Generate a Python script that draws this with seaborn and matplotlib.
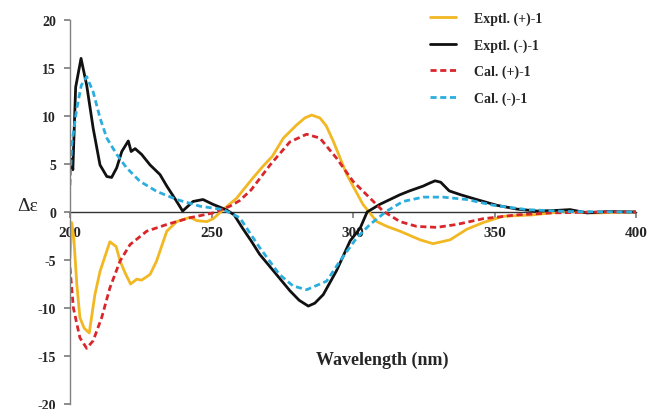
import numpy as np
import pandas as pd
import matplotlib
matplotlib.use("Agg")
import matplotlib.pyplot as plt
import seaborn as sns

# ---- data ----
exp_pos_wl = [200, 200.6, 201.3, 202.4, 203.5, 205.0, 206.8, 208.8, 210.6, 212.5, 214.1, 216.3,
              217.7, 219.4, 221.4, 223.6, 225.3, 228.3, 230.6, 234.2, 237.7, 242.4, 244.8,
              248.3, 250.6, 253.6, 258.9, 264.5, 268.3, 271.5, 275.4, 280.2, 283.0, 285.4,
              288.3, 290.5, 293.0, 297.8, 303.5, 308.4, 312.0, 316.6, 323.7, 328.3, 334.3,
              340.2, 346.0, 353.0, 363.6, 375.6, 385.0, 400]
exp_pos_val = [-4.8, -1.1, -2.5, -7.5, -11.0, -12.1, -12.6, -8.6, -6.2, -4.5, -3.1, -3.6,
               -5.1, -6.3, -7.5, -7.0, -7.1, -6.5, -5.1, -2.0, -1.0, -0.55, -0.9,
               -1.0, -0.7, 0.1, 1.45, 3.5, 4.8, 5.8, 7.7, 9.1, 9.8, 10.1,
               9.8, 9.0, 7.4, 3.9, 0.8, -1.0, -1.5, -2.0, -2.9, -3.3, -2.9,
               -1.8, -1.1, -0.45, -0.3, 0.1, -0.1, 0.0]

exp_neg_wl = [200.6, 201.0, 202.0, 203.9, 205.9, 208.2, 210.6, 213.0, 214.7, 216.5, 218.3,
              220.6, 221.6, 223.0, 225.3, 228.3, 231.8, 234.2, 237.7, 239.8, 243.5, 247.0,
              250.5, 253.0, 255.4, 258.0, 261.0, 264.0, 267.0, 271.8, 277.7, 281.0, 284.2,
              286.5, 289.5, 294.2, 299.0, 302.5, 305.0, 309.5, 316.6, 320.0, 324.8, 327.0,
              329.0, 331.0, 334.0, 338.0, 343.7, 350.8, 358.0, 365.0, 371.0, 376.7, 382.7,
              390.0, 400]
exp_neg_val = [5.5, 4.4, 13.0, 16.0, 13.2, 8.7, 4.9, 3.7, 3.6, 4.6, 6.3,
               7.4, 6.3, 6.6, 6.0, 4.9, 3.9, 2.7, 1.1, 0.1, 1.1, 1.3,
               0.8, 0.5, 0.2, -0.3, -1.7, -3.0, -4.4, -6.1, -8.2, -9.2, -9.8,
               -9.5, -8.6, -6.1, -3.0, -1.7, 0.0, 0.8, 1.8, 2.2, 2.7, 3.0,
               3.25, 3.1, 2.2, 1.8, 1.3, 0.7, 0.3, 0.1, 0.15, 0.25, -0.1,
               0.05, 0.0]

cal_pos_wl = [200, 201.2, 203.5, 205.9, 208.2, 211.2, 214.1, 217.7, 221.2, 227.1, 234.2,
              242.4, 250.5, 256.5, 260.0, 264.0, 270.7, 277.7, 283.6, 288.3, 294.2, 300.0,
              306.0, 310.6, 316.6, 322.5, 329.6, 336.6, 346.0, 357.8, 369.6, 385.0, 400]
cal_pos_val = [-5.8, -10.0, -13.1, -14.2, -13.4, -11.0, -7.9, -5.1, -3.4, -2.0, -1.3,
               -0.6, -0.1, 0.6, 1.2, 2.3, 4.9, 7.3, 8.1, 7.7, 5.6, 3.2,
               1.45, 0.1, -1.0, -1.5, -1.6, -1.3, -0.7, -0.3, -0.1, 0.0, 0.0]

cal_neg_wl = [200, 200.6, 202.4, 204.0, 205.9, 208.2, 210.6, 213.0, 216.5, 220.0, 224.7,
              230.6, 237.7, 246.0, 254.2, 260.0, 267.0, 274.0, 278.8, 283.6, 290.7, 295.4,
              301.3, 306.0, 311.9, 317.7, 324.8, 331.8, 340.2, 349.6, 361.4, 375.5, 400]
cal_neg_val = [2.8, 7.0, 10.8, 13.2, 14.1, 12.5, 9.8, 7.7, 6.0, 4.6, 3.2,
               2.15, 1.3, 0.6, 0.25, -0.6, -3.7, -6.5, -7.7, -8.1, -7.2, -5.1,
               -2.7, -1.3, 0.1, 1.1, 1.55, 1.55, 1.3, 0.7, 0.25, 0.05, 0.0]

labels = ["Exptl. (+)-1", "Exptl. (-)-1", "Cal. (+)-1", "Cal. (-)-1"]
x_ticks = [200, 250, 300, 350, 400]
y_ticks = [-20, -15, -10, -5, 0, 5, 10, 15, 20]

# ---- plot ----
sns.set_theme(style="white")
plt.rcParams["font.family"] = ["Liberation Serif", "DejaVu Serif"]
plt.rcParams["axes.unicode_minus"] = False

fig = plt.figure(figsize=(6.5, 4.1), dpi=100)
ax = fig.add_axes([70 / 650, 1 - 405 / 410, (636 - 70) / 650, (405 - 21) / 410])

series = [
    (exp_pos_wl, exp_pos_val, labels[0], "#F2B824", "-"),
    (exp_neg_wl, exp_neg_val, labels[1], "#111111", "-"),
    (cal_pos_wl, cal_pos_val, labels[2], "#D9262B", (0, (2.2, 1.3))),
    (cal_neg_wl, cal_neg_val, labels[3], "#2BAEDD", (0, (2.2, 1.3))),
]
for wl, val, lab, col, ls in series:
    df = pd.DataFrame({"wl": wl, "val": val})
    sns.lineplot(data=df, x="wl", y="val", ax=ax, color=col, linestyle=ls,
                 linewidth=2.0, label=lab, estimator=None, sort=False)

ax.set_xlim(200, 400)
ax.set_ylim(-20, 20)
ax.set_xticks(x_ticks)
ax.set_yticks(y_ticks)
ax.set_xlabel("")
ax.set_ylabel("")

for s in ["top", "right"]:
    ax.spines[s].set_visible(False)
ax.spines["left"].set_color("#808080")
ax.spines["left"].set_linewidth(1.0)
ax.spines["bottom"].set_position(("data", 0))
ax.spines["bottom"].set_color("#333333")
ax.spines["bottom"].set_linewidth(1.0)
ax.spines["bottom"].set_zorder(1)

ax.tick_params(axis="y", which="both", left=True, direction="out", length=4,
               color="#808080", pad=6, labelsize=10)
ax.tick_params(axis="x", which="both", bottom=True, direction="out", length=4,
               color="#808080", pad=6, labelsize=11)
for t in ax.get_yticklabels() + ax.get_xticklabels():
    t.set_fontweight("bold")

ax.set_facecolor("white")
ax.grid(False)

leg = ax.legend(loc="upper left", bbox_to_anchor=(417 / 650, 1 - 0 / 410),
                bbox_transform=fig.transFigure, frameon=False,
                prop={"family": ["Liberation Serif"], "weight": "bold", "size": 10},
                handlelength=1.9, handletextpad=1.3, labelspacing=0.95)

fig.text(28 / 650, 1 - 207 / 410, "Δε", fontsize=14, ha="center", va="center")
fig.text(382 / 650, 1 - 360 / 410, "Wavelength (nm)", fontsize=13,
         fontweight="bold", ha="center", va="center")

fig.savefig("out.png", dpi=100, facecolor="white")
